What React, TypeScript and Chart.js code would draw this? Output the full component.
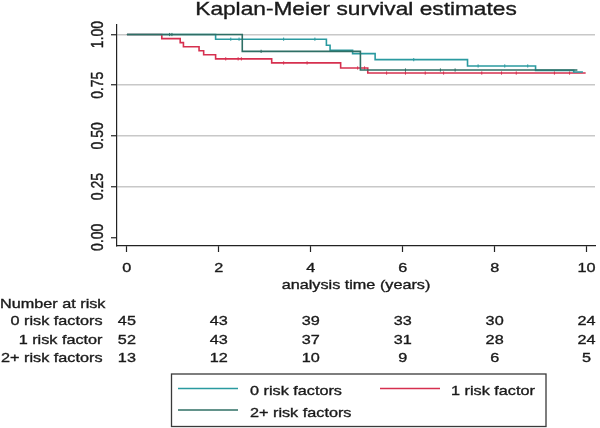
import React, { useEffect, useRef } from 'react';
import { Chart, registerables } from 'chart.js';

Chart.register(...registerables);

// ---------------- data ----------------
const chartTitle = 'Kaplan-Meier survival estimates';
const xAxisTitle = 'analysis time (years)';
const xTickValues = [0, 2, 4, 6, 8, 10];
const yTickValues = [0, 0.25, 0.5, 0.75, 1];

const groupNames = ['0 risk factors', '1 risk factor', '2+ risk factors'];
const riskHeader = 'Number at risk';
const atRisk0 = [45, 43, 39, 33, 30, 24];
const atRisk1 = [52, 43, 37, 31, 28, 24];
const atRisk2 = [13, 12, 10, 9, 6, 5];

// Kaplan-Meier step curves (time of step, survival after step)
const km0Times = [0, 1.93, 4.34, 4.42, 4.91, 5.4, 7.41, 8.89, 9.72, 9.92];
const km0Surv = [1, 0.977, 0.947, 0.922, 0.906, 0.876, 0.845, 0.823, 0.815, 0.815];
const km1Times = [0, 0.76, 1.16, 1.23, 1.57, 1.67, 1.93, 3.15, 4.65, 5.24, 9.98];
const km1Surv = [1, 0.98, 0.96, 0.94, 0.92, 0.9, 0.88, 0.86, 0.835, 0.81, 0.81];
const km2Times = [0, 2.51, 5.08, 9.8];
const km2Surv = [1, 0.917, 0.825, 0.825];

// censoring times
const cens0 = [2.26, 2.44, 3.41, 4.09, 6.24, 7.64, 8.22, 8.72];
const cens1 = [2.15, 2.42, 2.49, 3.41, 3.92, 5.02, 5.17, 5.65, 6.06, 6.49, 6.89, 7.72, 8.15, 8.47, 9.3, 9.63];
const cens2 = [0.93, 0.98, 2.92, 6.06, 6.82, 7.14];

// ---------------- styles ----------------
const COL0 = '#2a9aa0';
const COL1 = '#d6304f';
const COL2 = '#2f6f65';
const TEXT = '#1a1a1a';
const AXIS = '#222222';
const FONT = '"Liberation Sans", Arial, Helvetica, sans-serif';
const SX = 1.22; // horizontal stretch of text
const FS = 13.3;

function survAt(times: number[], surv: number[], t: number) {
  let v = surv[0];
  for (let i = 0; i < times.length; i++) if (times[i] <= t) v = surv[i];
  return v;
}
function curve(times: number[], surv: number[]) {
  return times.map((t, i) => ({ x: t, y: surv[i] }));
}
function censPts(c: number[], times: number[], surv: number[]) {
  return c.map((t) => ({ x: t, y: survAt(times, surv, t) }));
}

function paintText(ctx: CanvasRenderingContext2D, s: string, size: number, align: CanvasTextAlign) {
  ctx.font = `${size}px ${FONT}`;
  ctx.textAlign = align;
  ctx.textBaseline = 'alphabetic';
  ctx.fillStyle = TEXT;
  ctx.strokeStyle = TEXT;
  ctx.lineWidth = 0.35;
  ctx.fillText(s, 0, 0);
  ctx.strokeText(s, 0, 0);
}

function txt(ctx: CanvasRenderingContext2D, s: string, x: number, y: number, size: number, align: CanvasTextAlign) {
  ctx.save();
  ctx.translate(x, y);
  ctx.scale(SX, 1);
  paintText(ctx, s, size, align);
  ctx.restore();
}

const overlay = {
  id: 'overlay',
  afterDraw(chart: any) {
    const ctx: CanvasRenderingContext2D = chart.ctx;
    const xs = chart.scales.x;
    const ys = chart.scales.y;
    const ca = chart.chartArea;
    const cx = (ca.left + ca.right) / 2;

    // title
    txt(ctx, chartTitle, cx, 15, 18.6, 'center');

    // y tick labels (rotated)
    for (const t of ys.ticks) {
      const py = ys.getPixelForValue(t.value);
      ctx.save();
      ctx.translate(ca.left - 14.5, py);
      ctx.rotate(-Math.PI / 2);
      ctx.scale(1, SX);
      paintText(ctx, Number(t.value).toFixed(2), 14, 'center');
      ctx.restore();
    }

    // x tick labels
    for (const t of xs.ticks) {
      txt(ctx, String(t.value), xs.getPixelForValue(t.value), 272, FS, 'center');
    }
    txt(ctx, xAxisTitle, cx, 289, FS, 'center');

    // number at risk table
    txt(ctx, riskHeader, 0, 308.3, FS, 'left');
    const rows = [atRisk0, atRisk1, atRisk2];
    const rowY = [325, 343.5, 362];
    rows.forEach((r, i) => {
      txt(ctx, groupNames[i], 102.5, rowY[i], FS, 'right');
      r.forEach((n, j) => {
        txt(ctx, String(n), xs.getPixelForValue(xTickValues[j]), rowY[i], FS, 'center');
      });
    });

    // legend box
    ctx.save();
    ctx.strokeStyle = '#3a3a3a';
    ctx.lineWidth = 1.3;
    ctx.strokeRect(171.5, 374, 374.5, 52.5);
    const keys = [
      { c: COL0, x0: 178, x1: 238, y: 388.5, tx: 250, ty: 395, label: groupNames[0] },
      { c: COL1, x0: 380, x1: 440, y: 388.5, tx: 451, ty: 395, label: groupNames[1] },
      { c: COL2, x0: 178, x1: 238, y: 410, tx: 250, ty: 416.5, label: groupNames[2] },
    ];
    ctx.lineWidth = 1.5;
    for (const k of keys) {
      ctx.strokeStyle = k.c;
      ctx.beginPath();
      ctx.moveTo(k.x0, k.y);
      ctx.lineTo(k.x1, k.y);
      ctx.stroke();
    }
    ctx.restore();
    for (const k of keys) txt(ctx, k.label, k.tx, k.ty, FS, 'left');
  },
};

export default function App() {
  const ref = useRef<HTMLCanvasElement>(null);
  useEffect(() => {
    document.body.style.margin = '0';
    const lineDs = (label: string, data: any[], color: string) => ({
      type: 'line' as const,
      label,
      data,
      borderColor: color,
      borderWidth: 1.6,
      stepped: 'before' as const,
      pointRadius: 0,
      fill: false,
    });
    const censDs = (label: string, data: any[], color: string) => ({
      type: 'scatter' as const,
      label,
      data,
      borderColor: color,
      backgroundColor: color,
      pointStyle: 'line' as const,
      pointRotation: 90,
      pointRadius: 1.6,
      pointBorderWidth: 1,
      showLine: false,
    });
    const chart = new Chart(ref.current!, {
      type: 'line',
      data: {
        datasets: [
          lineDs(groupNames[2], curve(km2Times, km2Surv), COL2),
          censDs('c2', censPts(cens2, km2Times, km2Surv), COL2),
          lineDs(groupNames[0], curve(km0Times, km0Surv), COL0),
          censDs('c0', censPts(cens0, km0Times, km0Surv), COL0),
          lineDs(groupNames[1], curve(km1Times, km1Surv), COL1),
          censDs('c1', censPts(cens1, km1Times, km1Surv), COL1),
        ] as any,
      },
      options: {
        animation: false,
        responsive: false,
        events: [],
        layout: { padding: { left: 111, top: 25, right: 0, bottom: 176 } },
        plugins: { legend: { display: false }, title: { display: false }, tooltip: { enabled: false } },
        scales: {
          x: {
            type: 'linear',
            min: -0.215,
            max: 10.183,
            afterBuildTicks: (s: any) => {
              s.ticks = xTickValues.map((v) => ({ value: v }));
            },
            ticks: { display: false },
            grid: { drawOnChartArea: false, drawTicks: true, tickLength: 6, tickColor: AXIS, tickWidth: 1.2 },
            border: { display: true, color: AXIS, width: 1.2 },
          },
          y: {
            type: 'linear',
            min: -0.043,
            max: 1.047,
            afterBuildTicks: (s: any) => {
              s.ticks = yTickValues.map((v) => ({ value: v }));
            },
            ticks: { display: false },
            grid: {
              drawOnChartArea: true,
              drawTicks: true,
              tickLength: 6,
              tickColor: AXIS,
              tickWidth: 1.2,
              lineWidth: 1.5,
              color: (c: any) => (c.tick && c.tick.value === 0 ? 'rgba(0,0,0,0)' : '#c8c8c8'),
            },
            border: { display: true, color: AXIS, width: 1.2 },
          },
        },
      },
      plugins: [overlay],
    });
    return () => chart.destroy();
  }, []);
  return (
    <div style={{ width: 600, height: 428 }}>
      <canvas ref={ref} width={600} height={428} style={{ display: 'block' }} />
    </div>
  );
}
